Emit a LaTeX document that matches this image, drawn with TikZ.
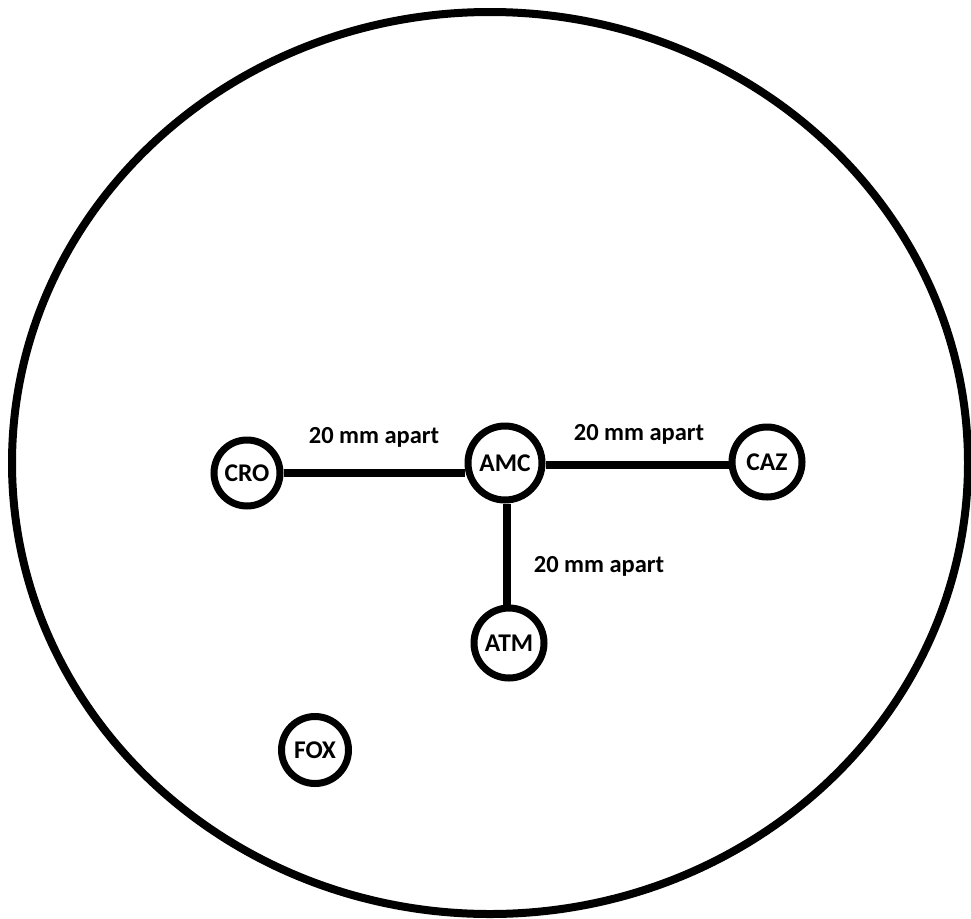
\documentclass[tikz,border=0pt]{standalone}
\usepackage{fontspec}
\setmainfont{Carlito}
\begin{document}
\begin{tikzpicture}[x=1pt,y=-1pt,
  station/.style={circle,draw=black,line width=7pt,inner sep=0pt,font=\bfseries\fontsize{25.5}{28}\selectfont},
  gap/.style={font=\bfseries\fontsize{24.5}{27}\selectfont,anchor=base,inner sep=0pt},
  link/.style={draw=black,line width=8pt}]
\useasboundingbox (0,0) rectangle (971,918);
\draw[line width=8pt] (490,463) ellipse [x radius=478, y radius=451];
\node[station,minimum size=66pt] (CRO) at (247,473) {CRO};
\node[station,minimum size=74pt] (AMC) at (505,463) {AMC};
\node[station,minimum size=70pt] (CAZ) at (767,462) {CAZ};
\node[station,minimum size=70pt] (ATM) at (509,643) {ATM};
\node[station,minimum size=67pt] (FOX) at (315,750) {FOX};
\draw[link] (CRO.east) -- (CRO.east -| AMC.west);
\draw[link] ([yshift=-2pt]AMC.east) -- ([yshift=-2pt]AMC.east -| CAZ.west);
\draw[link] ([xshift=2pt]AMC.south) -- ([xshift=2pt]AMC.south |- ATM.north);
\node[gap] (l1) at (374,443) {20 mm apart};
\node[gap] (l2) at (639,440) {20 mm apart};
\node[gap] (l3) at (599,572) {20 mm apart};
\end{tikzpicture}
\end{document}
